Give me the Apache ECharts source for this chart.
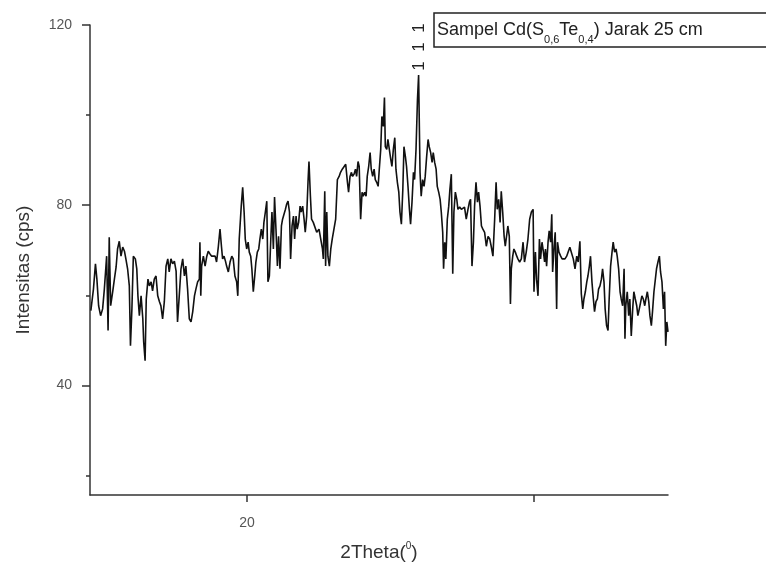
<!DOCTYPE html>
<html><head><meta charset="utf-8">
<script src="https://cdn.jsdelivr.net/npm/echarts@6/dist/echarts.min.js"></script>
<style>html,body{margin:0;padding:0;background:#fff}#c{width:766px;height:570px}</style>
</head><body><div id="c"></div>
<script>
const twoTheta = [
14.56,14.65,14.72,14.77,14.83,14.90,14.97,15.03,15.11,15.16,15.20,15.25,15.32,15.38,15.44,15.49,15.55,15.61,15.67,15.73,15.78,15.84,15.90,15.94,15.99,16.04,16.11,16.16,16.20,16.25,16.31,16.37,16.40,16.45,16.49,16.55,16.60,16.66,16.71,16.77,16.83,16.89,16.95,17.00,17.06,17.12,17.18,17.24,17.29,17.35,17.41,17.47,17.53,17.58,17.64,17.70,17.76,17.82,17.87,17.93,17.99,18.05,18.11,18.17,18.22,18.28,18.34,
18.36,18.39,18.42,18.48,18.54,18.60,18.65,18.71,18.77,18.83,18.89,18.94,19.00,19.06,19.11,19.15,19.20,19.25,19.29,19.35,19.41,19.47,19.52,19.58,19.64,19.68,19.73,19.80,19.85,19.90,19.94,19.99,20.04,20.08,20.13,20.17,20.22,20.27,20.31,20.36,20.41,20.45,20.50,20.55,20.59,20.64,20.69,20.73,20.78,20.83,20.87,20.92,20.96,21.01,21.06,21.10,21.15,21.20,21.24,21.29,21.34,21.38,21.43,21.48,21.52,21.57,21.62,21.66,21.71,21.75,21.80,21.85,21.89,21.94,21.99,22.03,22.08,22.13,22.16,22.21,22.25,22.31,22.37,22.43,
22.51,22.57,22.63,22.66,22.71,22.74,22.78,22.82,22.87,22.92,22.97,23.03,23.09,23.15,23.21,23.26,23.32,23.38,23.44,23.50,23.54,23.59,23.64,23.68,23.73,23.78,23.82,23.87,23.91,23.96,24.01,24.05,24.10,24.15,24.19,24.24,24.29,24.33,24.38,24.43,24.47,24.52,24.57,24.61,24.66,24.70,24.75,24.79,24.82,24.87,24.91,24.96,25.01,25.05,25.10,25.15,25.19,25.24,25.29,25.33,25.38,25.43,25.47,25.52,25.56,25.61,25.66,25.70,25.75,25.80,25.84,25.89,25.94,25.98,26.03,26.07,26.12,26.17,26.21,26.26,26.31,26.35,26.40,
26.45,26.49,26.54,26.59,26.63,26.68,26.73,26.77,26.82,26.85,26.89,26.93,26.98,27.03,27.07,27.12,27.17,27.21,27.26,27.31,27.35,27.41,27.47,27.53,27.58,27.64,27.70,27.75,27.79,27.84,27.89,27.93,27.98,28.03,28.07,28.12,28.17,28.22,28.28,28.34,28.40,28.46,28.51,28.57,28.63,28.68,28.72,28.77,28.82,28.86,28.91,28.96,29.00,29.05,29.09,29.14,29.18,29.21,29.26,29.30,29.35,29.40,29.44,29.50,29.56,29.62,29.67,29.73,29.79,29.85,29.91,29.97,30.00,30.05,30.09,30.14,30.19,30.23,30.28,30.33,30.37,
30.40,30.44,30.49,30.53,30.58,30.62,30.65,30.70,30.74,30.79,30.82,30.87,30.93,30.98,31.02,31.08,31.14,31.20,31.25,31.31,31.37,31.43,31.49,31.54,31.60,31.65,31.70,31.74,31.79,31.84,31.88,31.93,31.97,32.02,32.07,32.11,32.16,32.21,32.25,32.30,32.35,32.39,32.44,32.48,32.53,32.58,32.62,32.67,32.72,32.76,32.81,32.86,32.90,32.95,33.00,33.04,33.09,33.14,33.17,33.20,33.25,33.30,33.34,33.39,33.44,33.48,33.53,33.58,33.62,33.67,33.72,33.76,33.81,33.86,33.90,33.95,34.00,34.04,34.09,34.13,34.18,34.23,34.27,34.32,34.37,34.41,34.46,34.51,34.55,34.59,34.63,34.67
];
const intensity = [
56.6,61.4,67.0,63.6,57.7,55.5,57.0,61.4,68.7,52.2,72.9,57.7,60.8,63.6,66.3,70.3,72.0,68.7,70.7,69.8,68.1,65.9,62.1,48.8,57.0,68.7,68.1,65.9,59.9,55.5,59.9,54.8,49.7,45.5,59.2,63.6,62.1,63.0,61.0,63.6,64.3,59.9,58.6,57.7,54.8,58.6,66.5,68.1,65.2,68.1,67.0,67.6,65.4,54.1,59.9,65.9,68.1,64.3,66.5,61.4,54.8,54.1,56.4,59.9,61.4,63.0,63.6,
71.8,59.9,66.5,68.7,66.5,68.7,69.8,69.2,68.7,68.5,68.7,67.4,70.7,74.7,70.9,68.1,68.7,67.6,66.5,65.2,67.4,68.7,68.1,64.3,63.0,59.9,72.5,79.8,84.0,78.5,72.5,70.3,71.8,69.6,68.7,65.9,60.8,64.3,67.4,69.6,70.3,72.5,74.7,72.5,76.2,78.5,80.9,63.0,64.3,72.5,78.5,70.3,81.8,74.7,66.5,73.1,65.9,75.4,76.9,78.0,79.1,80.2,80.9,78.5,68.1,75.4,77.6,72.5,77.6,74.7,76.2,79.8,78.5,79.8,76.9,74.0,77.6,85.7,89.7,82.0,76.9,76.2,75.8,74.0,
74.7,72.5,70.3,68.1,83.1,66.5,78.5,68.7,66.5,70.3,72.5,74.7,76.9,85.7,86.4,87.3,88.0,88.4,89.1,85.1,82.9,86.4,87.3,86.4,86.9,88.0,86.4,89.7,88.6,76.9,82.9,82.0,82.9,82.0,86.4,88.6,91.7,88.0,86.4,88.0,85.7,85.1,84.2,88.0,92.4,99.7,97.5,103.9,93.0,92.4,94.6,92.4,90.2,88.6,92.4,95.0,88.0,85.1,82.9,78.5,75.8,83.5,93.0,90.8,88.6,84.2,79.1,75.8,80.7,87.3,85.7,92.4,103.4,108.9,87.3,82.0,85.7,84.2,86.4,90.8,94.6,93.0,91.7,
89.5,91.7,89.5,88.0,84.2,82.9,81.3,78.5,74.0,65.9,71.8,68.1,76.9,79.8,83.5,86.9,64.8,78.5,82.9,81.3,79.1,79.6,79.1,79.1,79.6,76.9,79.1,80.7,81.3,66.5,71.8,79.8,85.1,80.7,82.9,79.8,75.4,74.7,74.0,70.9,73.1,72.5,70.9,68.7,76.9,85.1,79.1,81.3,76.2,83.1,78.5,73.1,70.9,70.9,75.4,73.1,58.1,65.9,68.7,70.3,69.6,68.7,68.1,67.4,68.1,71.8,67.4,69.6,72.5,76.9,78.5,79.1,60.8,69.6,63.6,59.9,72.5,68.1,71.8,69.6,67.4,
70.3,66.5,71.8,74.3,71.8,78.0,65.2,70.9,74.0,57.0,71.8,69.6,68.7,68.1,68.5,68.1,68.7,69.8,70.7,70.3,68.1,65.9,68.7,67.4,72.0,60.3,57.0,59.2,60.8,63.0,64.3,66.5,68.7,63.0,59.2,56.4,58.6,59.2,61.4,62.1,63.6,65.9,63.0,57.0,53.3,52.2,59.2,66.5,69.6,71.8,69.6,70.3,68.7,65.9,60.8,59.2,57.7,65.9,50.4,57.7,60.8,55.5,59.2,51.0,57.0,60.8,59.2,57.7,55.5,57.0,58.6,59.9,59.2,57.7,59.2,60.8,58.6,55.5,53.3,56.4,60.8,63.6,65.9,67.4,68.7,65.2,63.0,57.0,60.8,48.8,54.1,51.9
];
const xTickValues = [20, 30];
const xLabelValues = [20];
const yMajorValues = [40, 80, 120];
const yMinorValues = [20, 60, 100];
const xTitle = '2Theta({sup|0})';
const yTitle = 'Intensitas (cps)';
const legendRich = '{a|Sampel Cd(S}{s|0,6}{a|Te}{s|0,4}{a|) Jarak 25 cm}';
const peakLabel = '1  1  1';

const FONT = '"Liberation Sans", Arial, sans-serif';
const chart = echarts.init(document.getElementById('c'), null, {renderer: 'canvas'});
const axisColor = '#333';
chart.setOption({
  animation: false,
  backgroundColor: '#fff',
  grid: {left: 90, right: 98, top: 25, bottom: 73},
  xAxis: {
    type: 'value', min: 14.53, max: 34.67,
    axisLine: {lineStyle: {color: axisColor, width: 1.5}},
    axisTick: {show: true, customValues: xTickValues, length: 7, lineStyle: {color: axisColor, width: 1.5}},
    axisLabel: {customValues: xLabelValues, margin: 21, color: '#555', fontSize: 14, fontFamily: FONT},
    splitLine: {show: false},
    name: xTitle, nameLocation: 'middle', nameGap: 46,
    nameTextStyle: {color: '#333', fontSize: 19, fontFamily: FONT, lineHeight: 24,
      rich: {sup: {fontSize: 10, lineHeight: 11, verticalAlign: 'top', color: '#333', fontFamily: FONT}}}
  },
  yAxis: [{
    type: 'value', min: 15.7, max: 120, position: 'left',
    axisLine: {show: true, lineStyle: {color: axisColor, width: 1.5}},
    axisTick: {show: true, customValues: yMajorValues, length: 8, lineStyle: {color: axisColor, width: 1.5}},
    axisLabel: {customValues: yMajorValues, margin: 18, color: '#555', fontSize: 14, fontFamily: FONT},
    splitLine: {show: false},
    name: yTitle, nameLocation: 'middle', nameGap: 57,
    nameTextStyle: {color: '#333', fontSize: 19, fontFamily: FONT, padding: [0, 0, 0, -20]}
  }, {
    type: 'value', min: 15.7, max: 120, position: 'left', offset: 0,
    axisLine: {show: false},
    axisTick: {show: true, customValues: yMinorValues, length: 4, lineStyle: {color: axisColor, width: 1.5}},
    axisLabel: {show: false},
    splitLine: {show: false}
  }],
  series: [{
    type: 'line', yAxisIndex: 0,
    data: twoTheta.map((x, i) => [x, intensity[i]]),
    symbol: 'none', showSymbol: false,
    lineStyle: {color: '#111', width: 1.6},
    silent: true
  }],
  graphic: [
    {type: 'rect', shape: {x: 434, y: 13, width: 345, height: 34},
     style: {fill: '#fff', stroke: '#222', lineWidth: 1.5}},
    {type: 'text', x: 437, y: 30,
     style: {text: legendRich, verticalAlign: 'middle', align: 'left', fontFamily: FONT,
       rich: {
         a: {fontSize: 18, lineHeight: 30, verticalAlign: 'middle', fill: '#222', fontFamily: FONT},
         s: {fontSize: 11, lineHeight: 11, verticalAlign: 'bottom', fill: '#222', fontFamily: FONT}
       }}},
    {type: 'text', x: 419, y: 47, rotation: Math.PI / 2,
     style: {text: peakLabel, fontSize: 17, fontFamily: FONT, fill: '#222', align: 'center', verticalAlign: 'middle'}}
  ]
});
</script>
</body></html>
